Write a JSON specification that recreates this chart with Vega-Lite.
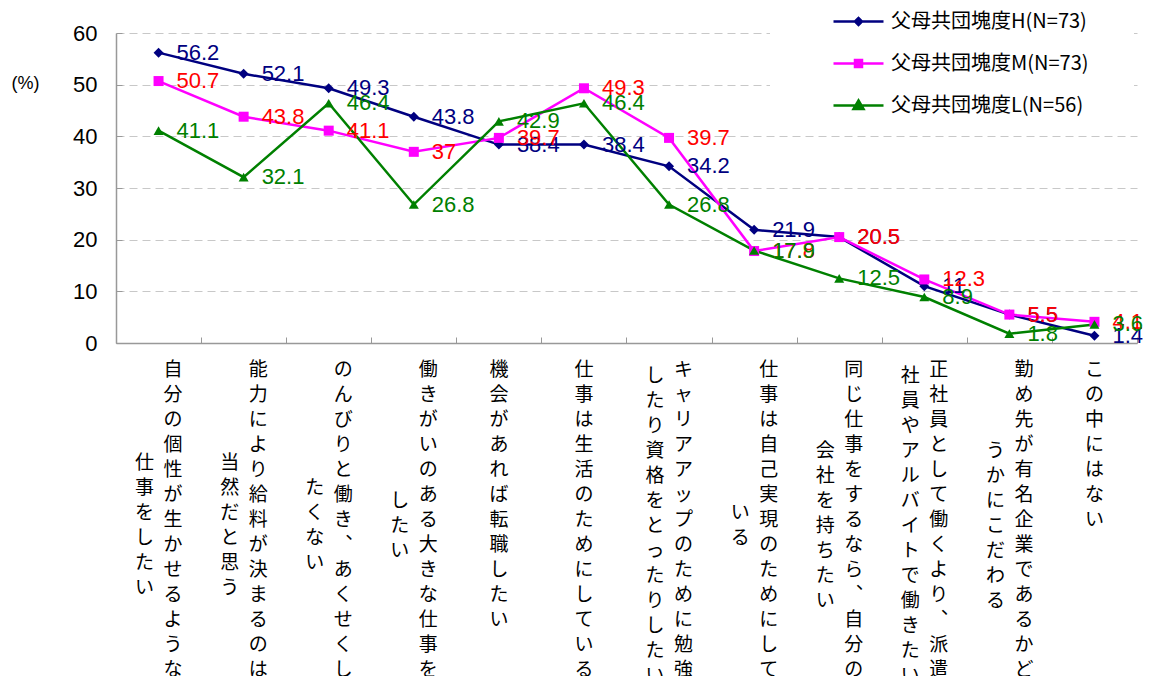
{
  "$schema": "https://vega.github.io/schema/vega-lite/v6.json",
  "width": 1021,
  "height": 310,
  "autosize": {"type": "none"},
  "padding": {"left": 116, "top": 33, "right": 12, "bottom": 333},
  "background": "white",
  "config": {"view": {"stroke": null}, "font": "Liberation Sans"},
  "data": {
    "values": [
      {"item": "自分の個性が生かせるような仕事をしたい", "series": "父母共団塊度H(N=73)", "value": 56.2},
      {"item": "能力により給料が決まるのは当然だと思う", "series": "父母共団塊度H(N=73)", "value": 52.1},
      {"item": "のんびりと働き、あくせくしたくない", "series": "父母共団塊度H(N=73)", "value": 49.3},
      {"item": "働きがいのある大きな仕事をしたい", "series": "父母共団塊度H(N=73)", "value": 43.8},
      {"item": "機会があれば転職したい", "series": "父母共団塊度H(N=73)", "value": 38.4},
      {"item": "仕事は生活のためにしている", "series": "父母共団塊度H(N=73)", "value": 38.4},
      {"item": "キャリアアップのために勉強したり資格をとったりしたい", "series": "父母共団塊度H(N=73)", "value": 34.2},
      {"item": "仕事は自己実現のためにしている", "series": "父母共団塊度H(N=73)", "value": 21.9},
      {"item": "同じ仕事をするなら、自分の会社を持ちたい", "series": "父母共団塊度H(N=73)", "value": 20.5},
      {"item": "正社員として働くより、派遣社員やアルバイトで働きたい", "series": "父母共団塊度H(N=73)", "value": 11},
      {"item": "勤め先が有名企業であるかどうかにこだわる", "series": "父母共団塊度H(N=73)", "value": 5.5},
      {"item": "この中にはない", "series": "父母共団塊度H(N=73)", "value": 1.4},
      {"item": "自分の個性が生かせるような仕事をしたい", "series": "父母共団塊度M(N=73)", "value": 50.7},
      {"item": "能力により給料が決まるのは当然だと思う", "series": "父母共団塊度M(N=73)", "value": 43.8},
      {"item": "のんびりと働き、あくせくしたくない", "series": "父母共団塊度M(N=73)", "value": 41.1},
      {"item": "働きがいのある大きな仕事をしたい", "series": "父母共団塊度M(N=73)", "value": 37},
      {"item": "機会があれば転職したい", "series": "父母共団塊度M(N=73)", "value": 39.7},
      {"item": "仕事は生活のためにしている", "series": "父母共団塊度M(N=73)", "value": 49.3},
      {"item": "キャリアアップのために勉強したり資格をとったりしたい", "series": "父母共団塊度M(N=73)", "value": 39.7},
      {"item": "仕事は自己実現のためにしている", "series": "父母共団塊度M(N=73)", "value": 17.8},
      {"item": "同じ仕事をするなら、自分の会社を持ちたい", "series": "父母共団塊度M(N=73)", "value": 20.5},
      {"item": "正社員として働くより、派遣社員やアルバイトで働きたい", "series": "父母共団塊度M(N=73)", "value": 12.3},
      {"item": "勤め先が有名企業であるかどうかにこだわる", "series": "父母共団塊度M(N=73)", "value": 5.5},
      {"item": "この中にはない", "series": "父母共団塊度M(N=73)", "value": 4.1},
      {"item": "自分の個性が生かせるような仕事をしたい", "series": "父母共団塊度L(N=56)", "value": 41.1},
      {"item": "能力により給料が決まるのは当然だと思う", "series": "父母共団塊度L(N=56)", "value": 32.1},
      {"item": "のんびりと働き、あくせくしたくない", "series": "父母共団塊度L(N=56)", "value": 46.4},
      {"item": "働きがいのある大きな仕事をしたい", "series": "父母共団塊度L(N=56)", "value": 26.8},
      {"item": "機会があれば転職したい", "series": "父母共団塊度L(N=56)", "value": 42.9},
      {"item": "仕事は生活のためにしている", "series": "父母共団塊度L(N=56)", "value": 46.4},
      {"item": "キャリアアップのために勉強したり資格をとったりしたい", "series": "父母共団塊度L(N=56)", "value": 26.8},
      {"item": "仕事は自己実現のためにしている", "series": "父母共団塊度L(N=56)", "value": 17.9},
      {"item": "同じ仕事をするなら、自分の会社を持ちたい", "series": "父母共団塊度L(N=56)", "value": 12.5},
      {"item": "正社員として働くより、派遣社員やアルバイトで働きたい", "series": "父母共団塊度L(N=56)", "value": 8.9},
      {"item": "勤め先が有名企業であるかどうかにこだわる", "series": "父母共団塊度L(N=56)", "value": 1.8},
      {"item": "この中にはない", "series": "父母共団塊度L(N=56)", "value": 3.6}
    ]
  },
  "layer": [
    {
      "mark": {"type": "line", "strokeWidth": 2.5},
      "encoding": {
        "x": {
          "field": "item", "type": "nominal", "sort": null,
          "scale": {"type": "band", "paddingInner": 0, "paddingOuter": 0},
          "axis": {
            "title": null, "orient": "bottom", "grid": false,
            "domainColor": "#999999", "domainWidth": 1.5,
            "tickColor": "#999999", "tickSize": -6, "tickWidth": 1, "tickBand": "extent",
            "labelExpr": "length(datum.label) > 13 ? split(substring(replace(datum.label, '、', '︑'), 0, 13), '') : ''",
            "labelFont": "Noto Sans CJK JP", "labelFontSize": 19, "labelLineHeight": 25,
            "labelAngle": 0, "labelAlign": "center", "labelBaseline": "top",
            "labelPadding": 23, "labelColor": "black", "labelLimit": 0, "labelOverlap": false,
            "labelOffset": 14
          }
        },
        "y": {
          "field": "value", "type": "quantitative",
          "scale": {"domain": [0, 60]},
          "axis": {
            "title": "(%)", "titleAngle": 0, "titleX": -91, "titleY": 50,
            "titleAlign": "center", "titleBaseline": "middle",
            "titleFontSize": 18, "titleFontWeight": "normal", "titleColor": "black",
            "values": [0, 10, 20, 30, 40, 50, 60],
            "grid": true, "gridDash": [8, 5], "gridColor": "#c8c8c8", "gridWidth": 1,
            "domainColor": "#999999", "domainWidth": 1.5,
            "tickColor": "#999999", "tickSize": -6,
            "labelFontSize": 22, "labelColor": "black", "labelPadding": 25
          }
        },
        "color": {
          "field": "series", "type": "nominal", "sort": null,
          "scale": {"domain": ["父母共団塊度H(N=73)", "父母共団塊度M(N=73)", "父母共団塊度L(N=56)"], "range": ["#000080", "#FF00FF", "#008000"]},
          "legend": {
            "orient": "none", "legendX": 654, "legendY": -38,
            "title": "　", "titleOrient": "right", "titlePadding": 30, "titleFontSize": 19,
            "padding": 15, "fillColor": "white",
            "symbolSize": 400, "symbolStrokeWidth": 2.5, "symbolOffset": 62, "labelOffset": 21,
            "labelFont": "Noto Sans CJK JP", "labelFontSize": 20, "labelColor": "black",
            "rowPadding": 20, "labelLimit": 0,
            "encode": {
              "symbols": {
                "update": {
                  "shape": {"signal": "['M-2.5,0H2.5M-0.35,0L0,-0.35L0.35,0L0,0.35Z', 'M-2.5,0H2.5M-0.35,-0.35H0.35V0.35H-0.35Z', 'M-2.5,0H2.5M0,-0.5L0.5,0.35H-0.5Z'][datum.index]"},
                  "fill": {"signal": "['#000080', '#FF00FF', '#008000'][datum.index]"},
                  "stroke": {"signal": "['#000080', '#FF00FF', '#008000'][datum.index]"}
                }
              }
            }
          }
        }
      }
    },
    {
      "mark": {"type": "point", "filled": true, "opacity": 1, "strokeWidth": 0, "size": 100},
      "encoding": {
        "x": {
          "field": "item", "type": "nominal", "sort": null,
          "axis": {
            "title": null, "orient": "bottom", "grid": false, "domain": false, "ticks": false,
            "labelExpr": "length(datum.label) > 13 ? '' : split(datum.label, '')",
            "labelFont": "Noto Sans CJK JP", "labelFontSize": 19, "labelLineHeight": 25,
            "labelAngle": 0, "labelAlign": "center", "labelBaseline": "top",
            "labelPadding": 17, "labelOffset": 0, "labelColor": "black", "labelLimit": 0, "labelOverlap": false
          }
        },
        "y": {"field": "value", "type": "quantitative"},
        "color": {
          "field": "series", "type": "nominal", "sort": null,
          "scale": {"domain": ["父母共団塊度H(N=73)", "父母共団塊度M(N=73)", "父母共団塊度L(N=56)"], "range": ["#000080", "#FF00FF", "#008000"]},
          "legend": null
        },
        "shape": {
          "field": "series", "type": "nominal", "sort": null,
          "scale": {"domain": ["父母共団塊度H(N=73)", "父母共団塊度M(N=73)", "父母共団塊度L(N=56)"], "range": ["diamond", "square", "triangle-up"]},
          "legend": null
        }
      }
    },
    {
      "mark": {"type": "text", "align": "left", "baseline": "middle", "dx": 18, "fontSize": 22, "font": "Liberation Sans"},
      "encoding": {
        "x": {
          "field": "item", "type": "nominal", "sort": null,
          "axis": {
            "title": null, "orient": "bottom", "grid": false, "domain": false, "ticks": false,
            "labelExpr": "length(datum.label) > 13 ? split(pad('', 26 - length(datum.label), '\u200b|') + join(split(substring(datum.label, 13, 40), ''), '|\u200b|'), '|') : ''",
            "labelFont": "Noto Sans CJK JP", "labelFontSize": 19, "labelLineHeight": 12.5,
            "labelAngle": 0, "labelAlign": "center", "labelBaseline": "top",
            "labelPadding": 23, "labelOffset": -14, "labelColor": "black", "labelLimit": 0, "labelOverlap": false
          }
        },
        "y": {"field": "value", "type": "quantitative"},
        "text": {"field": "value", "type": "quantitative"},
        "color": {
          "field": "series", "type": "nominal", "sort": null,
          "scale": {"domain": ["父母共団塊度H(N=73)", "父母共団塊度M(N=73)", "父母共団塊度L(N=56)"], "range": ["#000080", "#FF0000", "#008000"]},
          "legend": null
        }
      }
    }
  ],
  "resolve": {"scale": {"color": "independent"}, "axis": {"x": "independent"}}
}
